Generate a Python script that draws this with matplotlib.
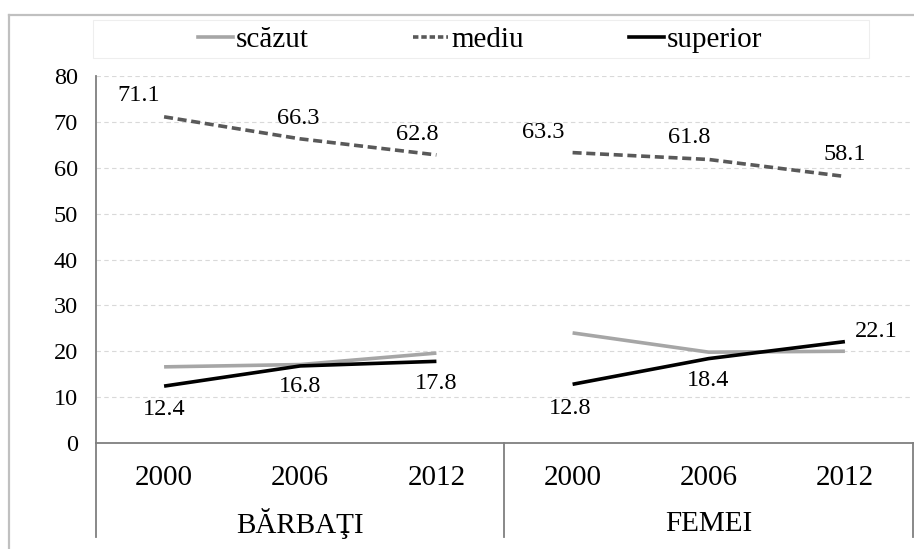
import matplotlib
matplotlib.use("Agg")
import matplotlib.pyplot as plt
from matplotlib.patches import Rectangle
from matplotlib.lines import Line2D
import matplotlib.transforms as mtransforms

plt.rcParams['font.family'] = ['Liberation Serif', 'DejaVu Serif']

years = ["2000", "2006", "2012", "2000", "2006", "2012"]
groups = ["BĂRBAŢI", "FEMEI"]
scazut = [16.6, 17.1, 19.6, 24.0, 19.8, 20.0]
mediu = [71.1, 66.3, 62.8, 63.3, 61.8, 58.1]
superior = [12.4, 16.8, 17.8, 12.8, 18.4, 22.1]

# label offsets in pixels (dx, dy), tuned by eye
mediu_off = [(-25, 21), (-2, 20), (-19, 20), (-29, 20), (-20, 22), (0, 22)]
sup_off = [(0, -23), (0, -21), (0, -22), (-2, -24), (-1, -22), (31, 10)]

fig = plt.figure(figsize=(9.14, 5.49), dpi=100)
W, H = 914, 549
ax = fig.add_axes([96 / W, 1 - 443 / H, (913 - 96) / W, (443 - 76) / H])

lw = 2.6
x = list(range(6))
for seg in (slice(0, 3), slice(3, 6)):
    ax.plot(x[seg], scazut[seg], color="#a6a6a6", lw=lw, solid_capstyle="butt")
    ax.plot(x[seg], mediu[seg], color="#595959", lw=lw, dashes=(2.5, 1.3))
    ax.plot(x[seg], superior[seg], color="black", lw=lw, solid_capstyle="butt")

for i in range(6):
    dx, dy = mediu_off[i]
    ax.annotate(f"{mediu[i]:.1f}", (x[i], mediu[i]), xytext=(dx * 0.72, dy * 0.72),
                textcoords="offset points", ha="center", va="center", fontsize=17.5)
    dx, dy = sup_off[i]
    ax.annotate(f"{superior[i]:.1f}", (x[i], superior[i]), xytext=(dx * 0.72, dy * 0.72),
                textcoords="offset points", ha="center", va="center", fontsize=17.5)

ax.set_xlim(-0.5, 5.5)
ax.set_ylim(0, 80)
ax.set_yticks(range(0, 81, 10))
ax.tick_params(axis="y", length=0, pad=13, labelsize=17.5)
ax.set_xticks([])
ax.grid(axis="y", color="#d9d9d9", lw=0.8, ls=(0, (4, 3)))
ax.set_axisbelow(True)
for s in ("top", "right"):
    ax.spines[s].set_visible(False)
for s in ("left", "bottom"):
    ax.spines[s].set_color("#7f7f7f")
    ax.spines[s].set_linewidth(1.3)

# category axis below the plot
trans = mtransforms.blended_transform_factory(ax.transData, ax.transAxes)
for xs in (-0.5, 2.5, 5.5):
    ax.plot([xs, xs], [0, -0.256], transform=trans, color="#7f7f7f", lw=1.3, clip_on=False)
for i in range(6):
    ax.text(x[i], -0.095, years[i], transform=trans, ha="center", va="center", fontsize=21)
for j, g in enumerate(groups):
    ax.text(1 + 3 * j, -0.22, g, transform=trans, ha="center", va="center", fontsize=21)

# outer border and legend box
fig.add_artist(Line2D([9 / W, 1], [1 - 15 / H, 1 - 15 / H], color="#c0c0c0", lw=1.6))
fig.add_artist(Line2D([9 / W, 9 / W], [0, 1 - 15 / H], color="#c0c0c0", lw=1.6))
fig.add_artist(Rectangle((93 / W, 1 - 58 / H), (869 - 93) / W, 38 / H,
                         fill=False, edgecolor="#eeeeee", lw=0.8))

handles = [Line2D([], [], color="#a6a6a6", lw=lw),
           Line2D([], [], color="#595959", lw=lw, dashes=(1.5, 0.8)),
           Line2D([], [], color="black", lw=lw)]
fig.legend(handles, ["scăzut", "mediu", "superior"], loc="center",
           bbox_to_anchor=(480 / W, 1 - 40 / H), ncol=3, frameon=False,
           fontsize=21, handlelength=1.2, handletextpad=0.1, columnspacing=3.6,
           borderpad=0, borderaxespad=0)

fig.savefig("out.png", dpi=100)
